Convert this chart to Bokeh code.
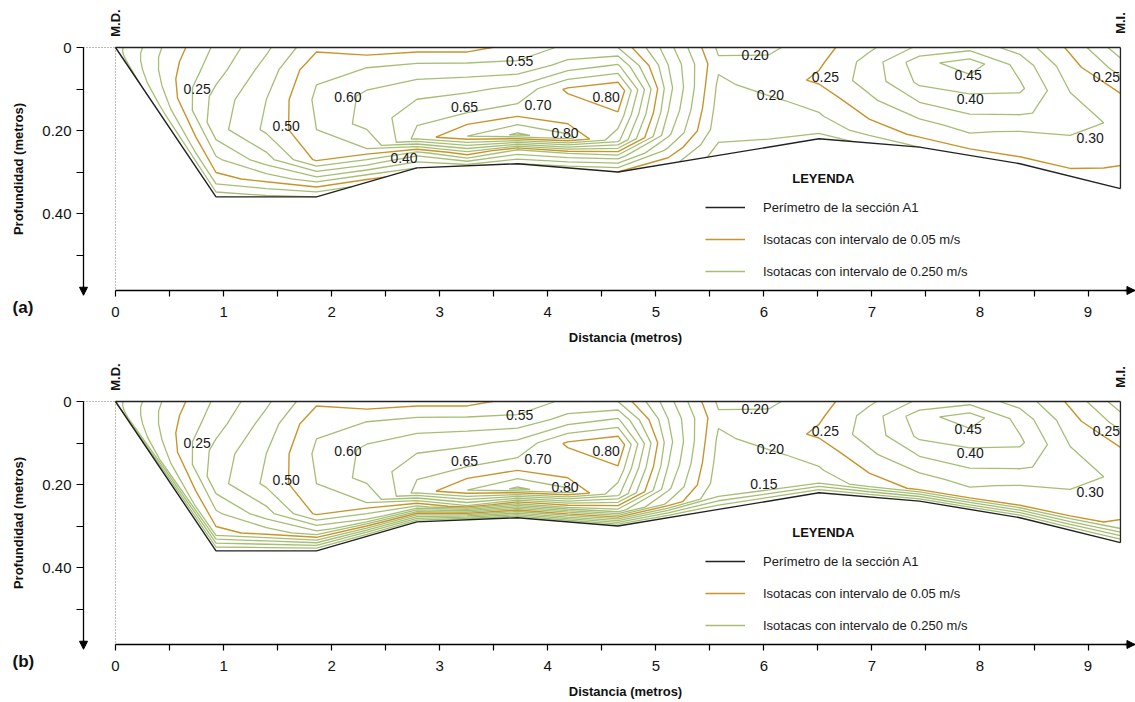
import numpy as np
from bokeh.plotting import figure
from bokeh.layouts import column
from bokeh.models import (Range1d, FixedTicker, CustomJSTickFormatter, Label, Arrow,
                          NormalHead, Legend, LegendItem, ColumnDataSource, LinearAxis)
from bokeh.embed import file_html
from bokeh.resources import INLINE
from bokeh.core.properties import value

# ---------------- data ----------------
# Cross-section perimeter (distance m, depth m)
perim_x = [0.0, 0.93, 1.86, 2.79, 3.72, 4.65, 5.58, 6.51, 7.44, 8.37, 9.30]
perim_y = [0.0, 0.36, 0.36, 0.29, 0.28, 0.30, 0.26, 0.22, 0.24, 0.28, 0.34]

# Velocity grid: verticals (m) and relative depths (fraction of local depth)
grid_x = [0.0, 0.465, 0.93, 1.395, 1.86, 2.325, 2.79, 3.255, 3.72, 4.185, 4.65,
          5.115, 5.58, 6.045, 6.51, 6.975, 7.44, 7.905, 8.37, 8.835, 9.30]
rel_depth = [0.0, 0.15, 0.35, 0.55, 0.75, 0.88, 1.0]

# velocities (m/s) per relative depth row
v_r000 = [0.08, 0.21, 0.31, 0.39, 0.49, 0.47, 0.48, 0.48, 0.52, 0.56, 0.55, 0.37, 0.19, 0.19, 0.23, 0.29, 0.36, 0.38, 0.33, 0.24, 0.12]
v_r015 = [0.08, 0.22, 0.33, 0.42, 0.54, 0.55, 0.56, 0.56, 0.56, 0.62, 0.66, 0.40, 0.21, 0.21, 0.24, 0.32, 0.43, 0.48, 0.38, 0.27, 0.18]
v_r035 = [0.08, 0.22, 0.37, 0.45, 0.56, 0.61, 0.63, 0.64, 0.66, 0.76, 0.80, 0.42, 0.19, 0.22, 0.26, 0.32, 0.41, 0.42, 0.41, 0.30, 0.26]
v_r055 = [0.08, 0.21, 0.38, 0.46, 0.55, 0.62, 0.68, 0.70, 0.72, 0.70, 0.74, 0.40, 0.18, 0.19, 0.22, 0.29, 0.35, 0.37, 0.36, 0.32, 0.29]
v_r075 = [0.08, 0.19, 0.29, 0.38, 0.51, 0.55, 0.72, 0.80, 0.86, 0.82, 0.66, 0.36, 0.17, 0.18, 0.195, 0.25, 0.29, 0.31, 0.29, 0.29, 0.27]
v_r088 = [0.08, 0.16, 0.23, 0.27, 0.33, 0.39, 0.42, 0.55, 0.45, 0.45, 0.42, 0.29, 0.15, 0.16, 0.17, 0.22, 0.26, 0.28, 0.28, 0.27, 0.24]
v_bed_a = [0.08, 0.12, 0.12, 0.14, 0.15, 0.22, 0.30, 0.33, 0.30, 0.28, 0.25, 0.22, 0.13, 0.13, 0.13, 0.16, 0.20, 0.22, 0.22, 0.23, 0.22]
v_bed_b = [0.0, 0.0, 0.0, 0.0, 0.0, 0.0, 0.0, 0.0, 0.0, 0.0, 0.0, 0.0, 0.0, 0.0, 0.0, 0.0, 0.0, 0.0, 0.0, 0.0, 0.0]

levels_main = [0.25, 0.50, 0.75]
levels_minor = [0.05, 0.10, 0.15, 0.20, 0.30, 0.35, 0.40, 0.45, 0.55, 0.60, 0.65, 0.70, 0.80, 0.85]

x_ticks = [0, 1, 2, 3, 4, 5, 6, 7, 8, 9]
x_minor = [0.5, 1.5, 2.5, 3.5, 4.5, 5.5, 6.5, 7.5, 8.5]
y_ticks = [0.0, 0.2, 0.4]
y_minor = [0.1, 0.3, 0.5]

# contour labels
lab_a_x = [0.755, 2.15, 1.58, 2.67, 3.74, 3.23, 3.91, 4.54, 4.16, 5.92, 6.06, 6.57, 7.89, 7.91, 9.17, 9.02]
lab_a_y = [0.10, 0.12, 0.19, 0.267, 0.032, 0.143, 0.138, 0.12, 0.205, 0.018, 0.115, 0.072, 0.066, 0.124, 0.072, 0.218]
lab_a_t = ["0.25", "0.60", "0.50", "0.40", "0.55", "0.65", "0.70", "0.80", "0.80", "0.20", "0.20", "0.25", "0.45", "0.40", "0.25", "0.30"]

lab_b_x = [0.755, 2.15, 1.58, 3.74, 3.23, 3.91, 4.54, 4.16, 5.92, 6.06, 6.0, 6.57, 7.89, 7.91, 9.17, 9.02]
lab_b_y = [0.10, 0.12, 0.19, 0.032, 0.143, 0.138, 0.12, 0.205, 0.018, 0.115, 0.198, 0.072, 0.066, 0.124, 0.072, 0.218]
lab_b_t = ["0.25", "0.60", "0.50", "0.55", "0.65", "0.70", "0.80", "0.80", "0.20", "0.20", "0.15", "0.25", "0.45", "0.40", "0.25", "0.30"]

legend_labels = ["Perímetro de la sección A1",
                 "Isotacas con intervalo de 0.05 m/s",
                 "Isotacas con intervalo de 0.250 m/s"]

# ---------------- style / geometry ----------------
FONT = "Liberation Sans"
ORANGE = "#c8952c"
GREEN = "#a6be74"
PX_X = 108.06      # px per metre (x)
PX_Y = 415.0       # px per metre (y)
W = 1135
X_LEFT = -115 / PX_X
X_RIGHT = (W - 115) / PX_X
Y_AX = 0.5855      # depth where the x axis sits
Y_ARROW = 0.597
X_AXIS_Y0 = -0.296  # distance where the depth axis sits


def build(letter, bed_row, lx, ly, lt, height):
    y_top = -47 / PX_Y
    y_bot = (height - 47) / PX_Y
    p = figure(width=W, height=height, output_backend="svg", toolbar_location=None,
               x_range=Range1d(X_LEFT, X_RIGHT), y_range=Range1d(y_bot, y_top),
               x_axis_location=None, y_axis_location=None,
               min_border_left=0, min_border_right=0, min_border_top=0,
               min_border_bottom=0, outline_line_color=None,
               background_fill_color="white", border_fill_color="white")
    p.grid.visible = False

    xa = LinearAxis(fixed_location=Y_AX, bounds=(0, X_RIGHT),
                    ticker=FixedTicker(ticks=x_ticks, minor_ticks=x_minor),
                    axis_label="Distancia (metros)")
    ya = LinearAxis(fixed_location=X_AXIS_Y0, bounds=(0, Y_AX),
                    ticker=FixedTicker(ticks=y_ticks, minor_ticks=y_minor),
                    formatter=CustomJSTickFormatter(code="return tick == 0 ? '0' : tick.toFixed(2);"),
                    axis_label="Profundidad (metros)")
    for ax in (xa, ya):
        ax.axis_line_color = "black"
        ax.axis_line_width = 1.3
        ax.major_tick_line_color = "black"
        ax.minor_tick_line_color = "black"
        ax.major_tick_line_width = 1.2
        ax.minor_tick_line_width = 1.2
        ax.major_tick_in = 0
        ax.minor_tick_in = 0
        ax.major_label_text_font = FONT
        ax.major_label_text_font_size = "15px"
        ax.major_label_text_color = "#111111"
        ax.axis_label_text_font = FONT
        ax.axis_label_text_font_style = "bold"
        ax.axis_label_text_font_size = "13px"
        ax.axis_label_text_color = "#111111"
    xa.major_tick_out = 6
    xa.minor_tick_out = 6
    xa.major_label_standoff = 11
    xa.axis_label_standoff = 9
    ya.major_tick_out = 7
    ya.minor_tick_out = 7
    ya.major_label_standoff = 5
    ya.axis_label_standoff = 13
    p.add_layout(xa, "below")
    p.add_layout(ya, "left")

    # grid geometry (curvilinear: relative depth * local depth)
    gx = np.array(grid_x)
    bed = np.interp(gx, perim_x, perim_y)
    rd = np.array(rel_depth)
    X = np.tile(gx, (len(rd), 1))
    Y = rd[:, None] * bed[None, :]
    Z = np.array([v_r000, v_r015, v_r035, v_r055, v_r075, v_r088, bed_row])

    c_green = p.contour(x=X, y=Y, z=Z, levels=levels_minor, line_color=GREEN, line_width=1.3)
    c_orange = p.contour(x=X, y=Y, z=Z, levels=levels_main, line_color=ORANGE, line_width=1.4)

    # reference lines
    p.line([X_AXIS_Y0, 0], [0, 0], line_color="#777777", line_width=1, line_dash="1 2")
    p.line([0, 0], [0, Y_AX], line_color="#777777", line_width=1, line_dash="1 2")
    p.line([0, perim_x[-1]], [0, 0], line_color="#222222", line_width=1.3)
    p.line([perim_x[-1], perim_x[-1]], [0, perim_y[-1]], line_color="#222222", line_width=1.3)
    r_perim = p.line(perim_x, perim_y, line_color="#222222", line_width=1.4)

    # contour labels
    src = ColumnDataSource(dict(x=lx, y=ly, t=lt))
    p.text(x="x", y="y", text="t", source=src, text_font=value(FONT),
           text_font_size="14px", text_align="center", text_baseline="middle",
           text_color="#1a1a1a")

    # bank labels
    for xx, tt in ((0.0, "M.D."), (perim_x[-1], "M.I.")):
        p.add_layout(Label(x=xx, y=-0.059, text=tt, angle=90, angle_units="deg",
                           text_align="center", text_baseline="middle",
                           text_font=FONT, text_font_size="13px",
                           text_font_style="bold", text_color="#111111"))
    # panel letter
    p.add_layout(Label(x=-0.953, y=0.627, text=letter, text_align="left",
                       text_baseline="middle", text_font=FONT, text_font_size="17px",
                       text_font_style="bold", text_color="#111111"))
    # axis arrows
    p.add_layout(Arrow(end=NormalHead(size=8, fill_color="black", line_color="black", line_width=1),
                       x_start=X_AXIS_Y0, y_start=Y_AX - 0.01, x_end=X_AXIS_Y0, y_end=Y_ARROW,
                       line_color="black", line_width=1.3))
    p.add_layout(Arrow(end=NormalHead(size=8, fill_color="black", line_color="black", line_width=1),
                       x_start=X_RIGHT - 0.1, y_start=Y_AX, x_end=X_RIGHT - 0.005, y_end=Y_AX,
                       line_color="black", line_width=1.3))

    # legend
    p.add_layout(Label(x=6.55, y=0.316, text="LEYENDA", text_align="center",
                       text_baseline="middle", text_font=FONT, text_font_size="13px",
                       text_font_style="bold", text_color="#111111"))
    leg = Legend(items=[LegendItem(label=legend_labels[0], renderers=[r_perim]),
                        LegendItem(label=legend_labels[1], renderers=[c_orange.line_renderer]),
                        LegendItem(label=legend_labels[2], renderers=[c_green.line_renderer])],
                 location=(705, height - 290 + 9), orientation="vertical",
                 glyph_width=40, glyph_height=20,
                 label_height=20, spacing=12, label_standoff=18, padding=0, margin=0,
                 border_line_color=None, background_fill_alpha=0,
                 label_text_font=FONT, label_text_font_size="13px", label_text_color="#1a1a1a")
    p.add_layout(leg)
    return p


pa = build("(a)", v_bed_a, lab_a_x, lab_a_y, lab_a_t, 354)
pb = build("(b)", v_bed_b, lab_b_x, lab_b_y, lab_b_t, 348)

layout = column(pa, pb, spacing=0)
open("out.html", "w").write(file_html(layout, INLINE))
